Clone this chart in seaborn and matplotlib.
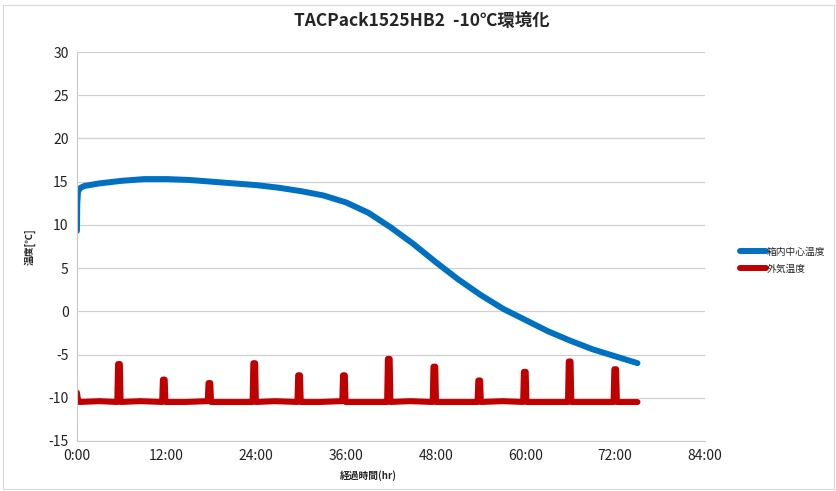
import numpy as np
import pandas as pd
import matplotlib
matplotlib.use('Agg')
import matplotlib.pyplot as plt
import seaborn as sns

# 箱内中心温度 (blue)
blue_time = [0, 0.05, 0.15, 0.5, 1, 3, 6, 9, 12, 15, 18, 21, 24, 27, 30, 33, 36,
             39, 42, 45, 48, 51, 54, 57, 60, 63, 66, 69, 72, 75]
blue_temp = [9.3, 12.5, 13.9, 14.3, 14.5, 14.8, 15.1, 15.3, 15.3, 15.2, 15.0, 14.8,
             14.6, 14.3, 13.9, 13.4, 12.6, 11.4, 9.7, 7.8, 5.7, 3.7, 1.9, 0.3,
             -1.0, -2.3, -3.4, -4.4, -5.2, -6.0]

# 外気温度 (red)
red_time = [0, 0.15, 0.35, 3,
            5.4, 5.5, 5.75, 5.85, 8.5,
            11.4, 11.5, 11.75, 11.85, 14.5,
            17.5, 17.6, 17.85, 17.95, 20.5,
            23.5, 23.6, 23.85, 23.95, 26.5,
            29.5, 29.6, 29.85, 29.95, 32.5,
            35.5, 35.6, 35.85, 35.95, 38.5,
            41.5, 41.6, 41.85, 41.95, 44.5,
            47.6, 47.7, 47.95, 48.05, 51,
            53.6, 53.7, 53.95, 54.05, 57,
            59.7, 59.8, 60.05, 60.15, 63,
            65.7, 65.8, 66.05, 66.15, 69,
            71.8, 71.9, 72.15, 72.25, 75]
red_temp = [-9.4, -10.2, -10.5, -10.4,
            -10.5, -6.1, -6.1, -10.5, -10.4,
            -10.5, -7.9, -7.9, -10.5, -10.5,
            -10.4, -8.3, -8.3, -10.5, -10.5,
            -10.5, -6.0, -6.0, -10.5, -10.4,
            -10.5, -7.4, -7.4, -10.5, -10.5,
            -10.4, -7.4, -7.4, -10.5, -10.5,
            -10.5, -5.5, -5.5, -10.5, -10.4,
            -10.5, -6.4, -6.4, -10.5, -10.5,
            -10.5, -8.0, -8.0, -10.5, -10.4,
            -10.5, -7.0, -7.0, -10.5, -10.5,
            -10.5, -5.8, -5.8, -10.5, -10.5,
            -10.5, -6.7, -6.7, -10.5, -10.5]

series_names = ['箱内中心温度', '外気温度']
series_colors = ['#0070C0', '#C00000']
x_ticks = [0, 12, 24, 36, 48, 60, 72, 84]
x_ticklabels = ['0:00', '12:00', '24:00', '36:00', '48:00', '60:00', '72:00', '84:00']
y_ticks = [-15, -10, -5, 0, 5, 10, 15, 20, 25, 30]

df = pd.concat([
    pd.DataFrame({'time': blue_time, 'temp': blue_temp, 'series': series_names[0]}),
    pd.DataFrame({'time': red_time, 'temp': red_temp, 'series': series_names[1]}),
], ignore_index=True)

sns.set_style('white')
plt.rcParams['font.family'] = ['Noto Sans CJK JP', 'DejaVu Sans']

fig = plt.figure(figsize=(8.36, 4.91), dpi=100)
ax = fig.add_axes([0.092, 0.102, 0.751, 0.792])

sns.lineplot(data=df, x='time', y='temp', hue='series', hue_order=series_names,
             palette=dict(zip(series_names, series_colors)), sort=False,
             estimator=None, linewidth=4.3, ax=ax, legend=False,
             solid_joinstyle='round', solid_capstyle='round')

ax.set_xlim(0, 84)
ax.set_ylim(-15, 30)
ax.set_xticks(x_ticks)
ax.set_xticklabels(x_ticklabels, fontsize=10)
ax.set_yticks(y_ticks)
ax.set_yticklabels([str(v) for v in y_ticks], fontsize=10)
ax.yaxis.grid(True, color='#d0d0d0', linewidth=0.9)
ax.set_axisbelow(True)
for s in ['top', 'right']:
    ax.spines[s].set_visible(False)
for s in ['left', 'bottom']:
    ax.spines[s].set_color('#c8c8c8')
ax.tick_params(length=0, pad=6, colors='#222222')

ax.set_xlabel('経過時間(hr)', fontsize=7, fontweight='bold')
ax.xaxis.set_label_coords(0.465, -0.075)
ax.set_ylabel('温度[℃]', fontsize=7, fontweight='bold')
ax.yaxis.set_label_coords(-0.065, 0.5)

fig.suptitle('TACPack1525HB2  -10℃環境化', x=0.505, y=0.975, fontsize=12.5,
             fontweight='bold')

handles = [plt.Line2D([0], [0], color=c, linewidth=4.3, solid_capstyle='round')
           for c in series_colors]
fig.legend(handles, series_names, loc='center left', bbox_to_anchor=(0.875, 0.47),
           frameon=False, fontsize=7, handlelength=2.6, handletextpad=0.1,
           labelspacing=0.7)

fig.patches.append(plt.Rectangle((0.004, 0.005), 0.994, 0.985, transform=fig.transFigure,
                                 fill=False, edgecolor='#d9d9d9', linewidth=0.8))

fig.savefig('out.png', dpi=100)
